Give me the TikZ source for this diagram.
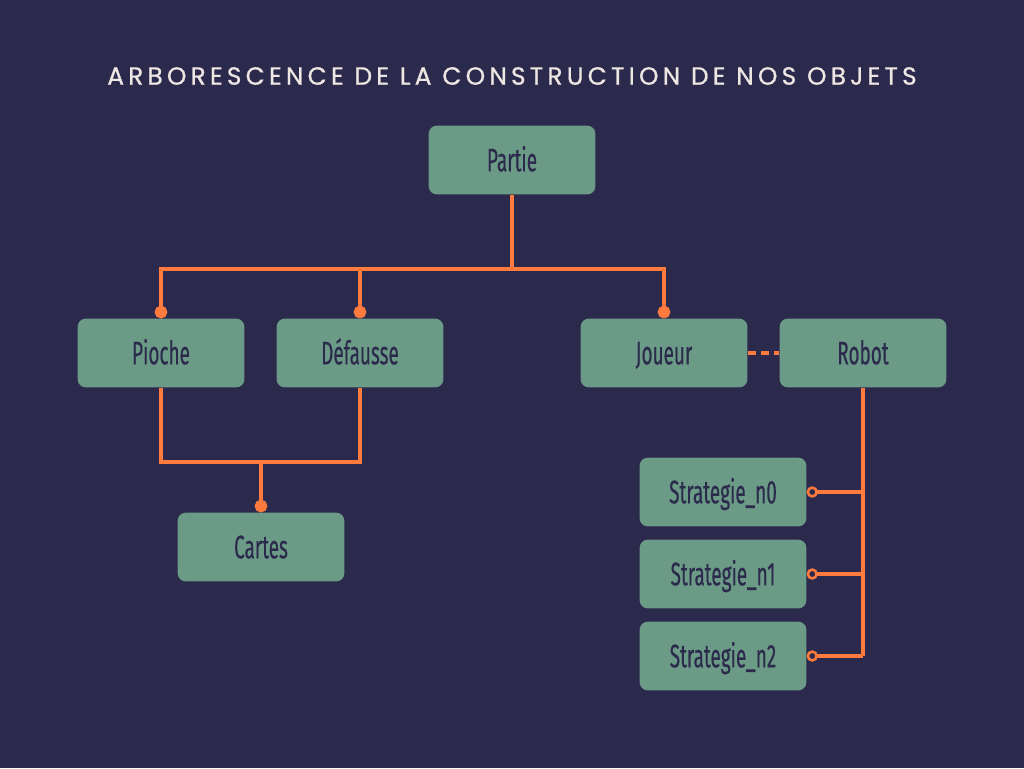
\documentclass[tikz,border=0pt]{standalone}
\usepackage{fontspec}
\usetikzlibrary{arrows.meta,positioning}
\newfontfamily\boxfont[FakeStretch=0.58, FakeBold=0.3]{Fira Sans}
\newfontfamily\titlefont[LetterSpace=17, FakeBold=0.8]{Poppins}

\definecolor{nuit}{HTML}{2B2A4C}
\definecolor{sauge}{HTML}{6B9A86}
\definecolor{corail}{HTML}{FF7A3D}
\definecolor{creme}{HTML}{EEE6E3}

\tikzset{
  objet/.style={fill=sauge, rounded corners=6pt, minimum width=125pt, minimum height=51.5pt,
    inner sep=0pt, text=nuit, text height=17pt, text depth=0pt,
    font=\boxfont\fontsize{24.5}{28}\selectfont},
  lien/.style={draw=corail, line width=2.4pt},
  plein/.style={lien, -{Circle[length=9.5pt]}},
  vide/.style={lien, -{Circle[open, length=8.5pt, line width=1.9pt]}}
}

\begin{document}
\begin{tikzpicture}[x=0.75pt, y=-0.75pt]
  % fond
  \fill[nuit] (0,0) rectangle (1024,768);
  \useasboundingbox (0,0) rectangle (1024,768);
  \node[text=creme, font=\titlefont\fontsize{18.6}{21}\selectfont] (titre) at (512,76)
    {ARBORESCENCE DE LA CONSTRUCTION DE NOS OBJETS};

  % objets
  \node[objet] (partie) at (512,160) {Partie};
  \node[objet] (pioche) at (161,353) {Pioche};
  \node[objet] (defausse) at (360,353) {Défausse};
  \node[objet] (joueur) at (664,353) {Joueur};
  \node[objet] (robot) at (863,353) {Robot};
  \node[objet] (cartes) at (261,547) {Cartes};
  \node[objet] (strat0) at (723,492) {Strategie\_n0};
  \node[objet] (strat1) at (723,574) {Strategie\_n1};
  \node[objet] (strat2) at (723,656) {Strategie\_n2};

  % bus de la partie
  \coordinate (bus) at (512,269);
  \draw[lien] (partie.south) -- (bus);
  \draw[plein] (bus) -| (pioche.north);
  \draw[plein] (bus) -| (defausse.north);
  \draw[plein] (bus) -| (joueur.north);

  % pioche et defausse vers cartes
  \coordinate (bas) at (261,462);
  \draw[lien] (pioche.south) |- (bas) -| (defausse.south);
  \draw[plein] (bas) -- (cartes.north);

  % joueur -- robot
  \draw[lien, dash pattern=on 6pt off 4pt] (joueur.east) -- (robot.west);

  % robot vers strategies
  \draw[lien] (robot.south) -- (robot.south |- strat2.east);
  \foreach \s in {strat0, strat1, strat2}
    \draw[vide] (robot.south |- \s.east) -- (\s.east);
\end{tikzpicture}
\end{document}
